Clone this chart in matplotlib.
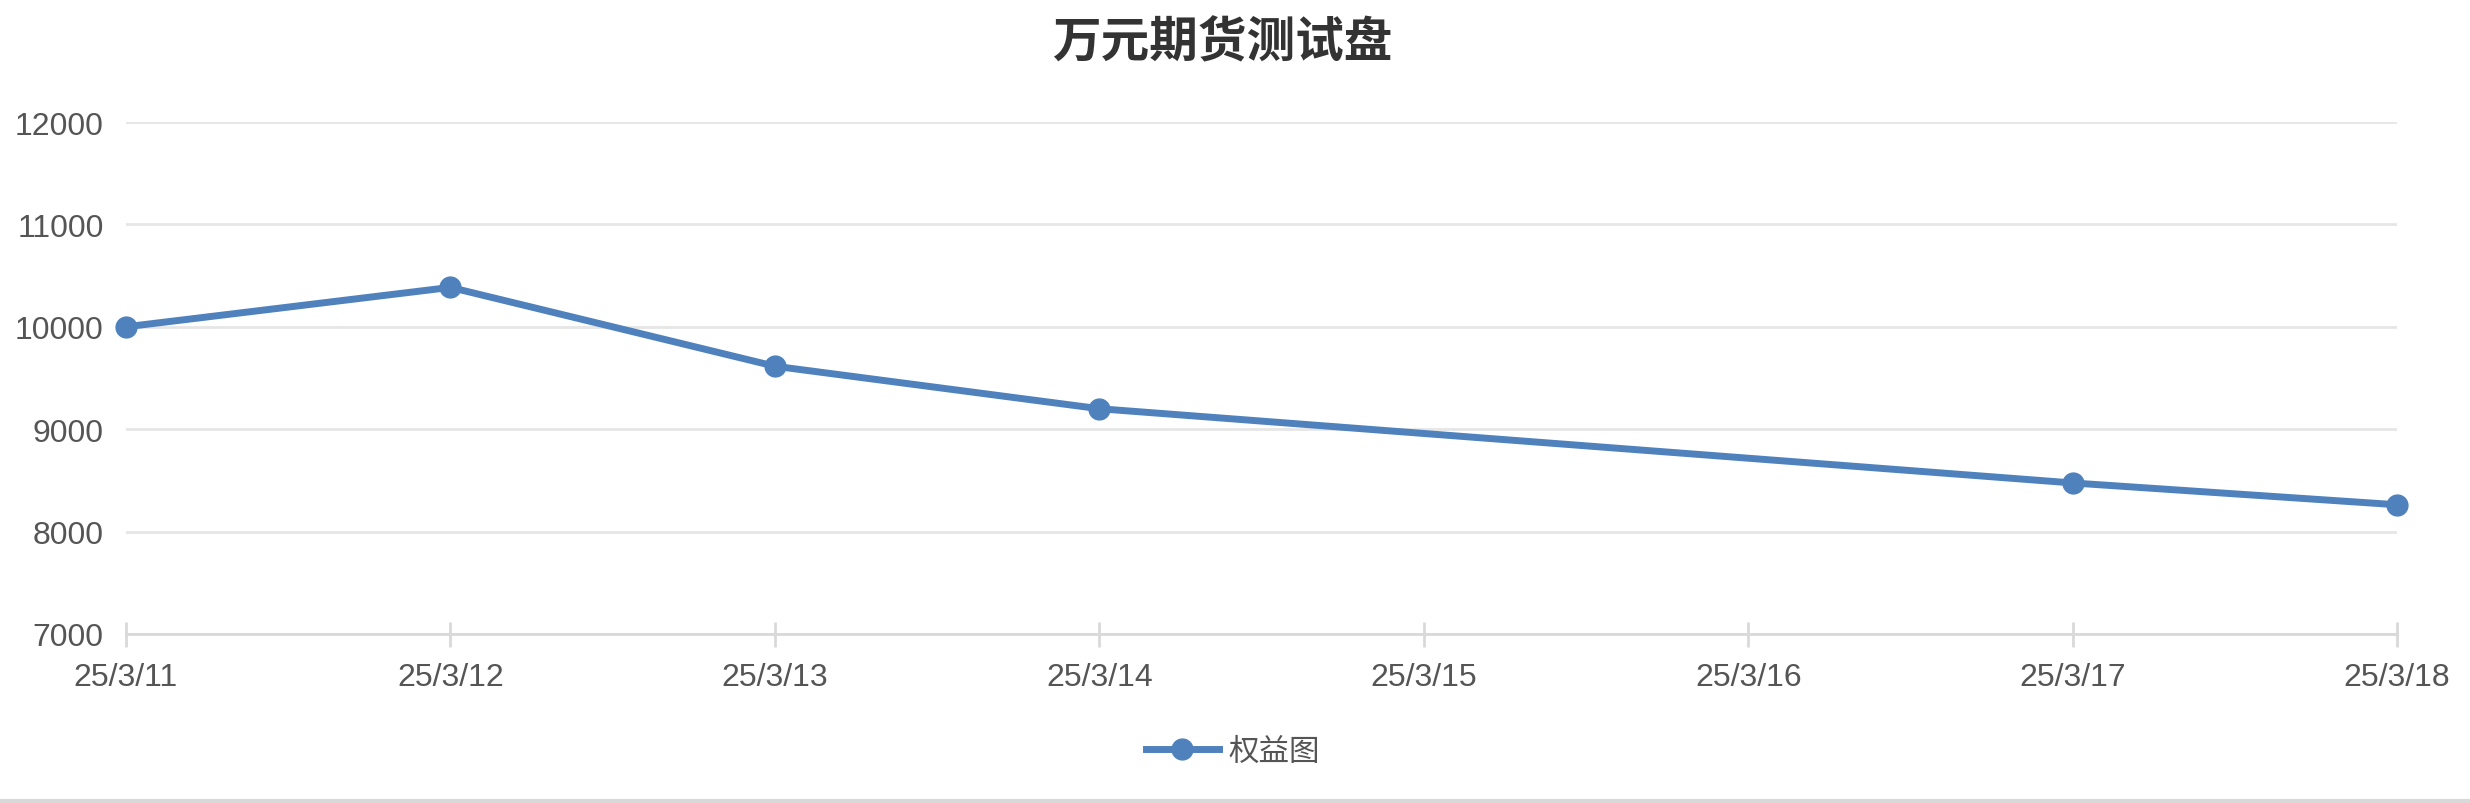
import matplotlib
matplotlib.use("Agg")
import matplotlib.pyplot as plt
import numpy as np

plt.rcParams['font.family'] = ['Liberation Sans', 'Noto Sans CJK SC', 'DejaVu Sans']

# values; 25/3/15 and 25/3/16 have no point
dates = ['25/3/11', '25/3/12', '25/3/13', '25/3/14', '25/3/15', '25/3/16', '25/3/17', '25/3/18']
equity = [10000, 10385, 9615, 9200, None, None, 8475, 8262]
y_ticks = [7000, 8000, 9000, 10000, 11000, 12000]

line_color = '#4f81bd'
text_color = '#555555'

fig = plt.figure(figsize=(24.7, 8.04), dpi=100)
ax = fig.add_axes([0.051, 0.2102, 0.9195, 0.6368])

xs = [i for i, v in enumerate(equity) if v is not None]
ys = [v for v in equity if v is not None]
ax.plot(xs, ys, color=line_color, lw=5, marker='o', ms=15,
        solid_joinstyle='round', label='权益图', zorder=3, clip_on=False)

ax.set_xlim(0, len(dates) - 1)
ax.set_ylim(7000, 12000)
ax.set_xticks(range(len(dates)))
ax.set_xticklabels(dates)
ax.set_yticks(y_ticks)

ax.grid(axis='y', color='#e6e6e6', lw=2)
for s in ['top', 'right', 'left']:
    ax.spines[s].set_visible(False)
ax.spines['bottom'].set_color('#d9d9d9')
ax.spines['bottom'].set_linewidth(2)
ax.tick_params(axis='y', length=0, pad=16, labelsize=23, labelcolor=text_color)
ax.tick_params(axis='x', direction='inout', length=18, width=2, color='#d9d9d9',
               pad=11, labelsize=23, labelcolor=text_color)

fig.text(0.495, 0.946, '万元期货测试盘', ha='center', va='center', fontsize=35,
         fontweight='bold', color='#333333', family=['Noto Sans CJK SC'])

leg = fig.legend(loc='center', bbox_to_anchor=(0.499, 0.064), frameon=False,
                 handlelength=2.4, handletextpad=0.3,
                 prop={'family': ['Noto Sans CJK SC'], 'size': 22})
for t in leg.get_texts():
    t.set_color(text_color)

fig.add_artist(plt.Line2D([0, 1], [0.002, 0.002], color='#d9d9d9', lw=3,
                          transform=fig.transFigure))

fig.savefig('out.png', dpi=100, facecolor='white')
